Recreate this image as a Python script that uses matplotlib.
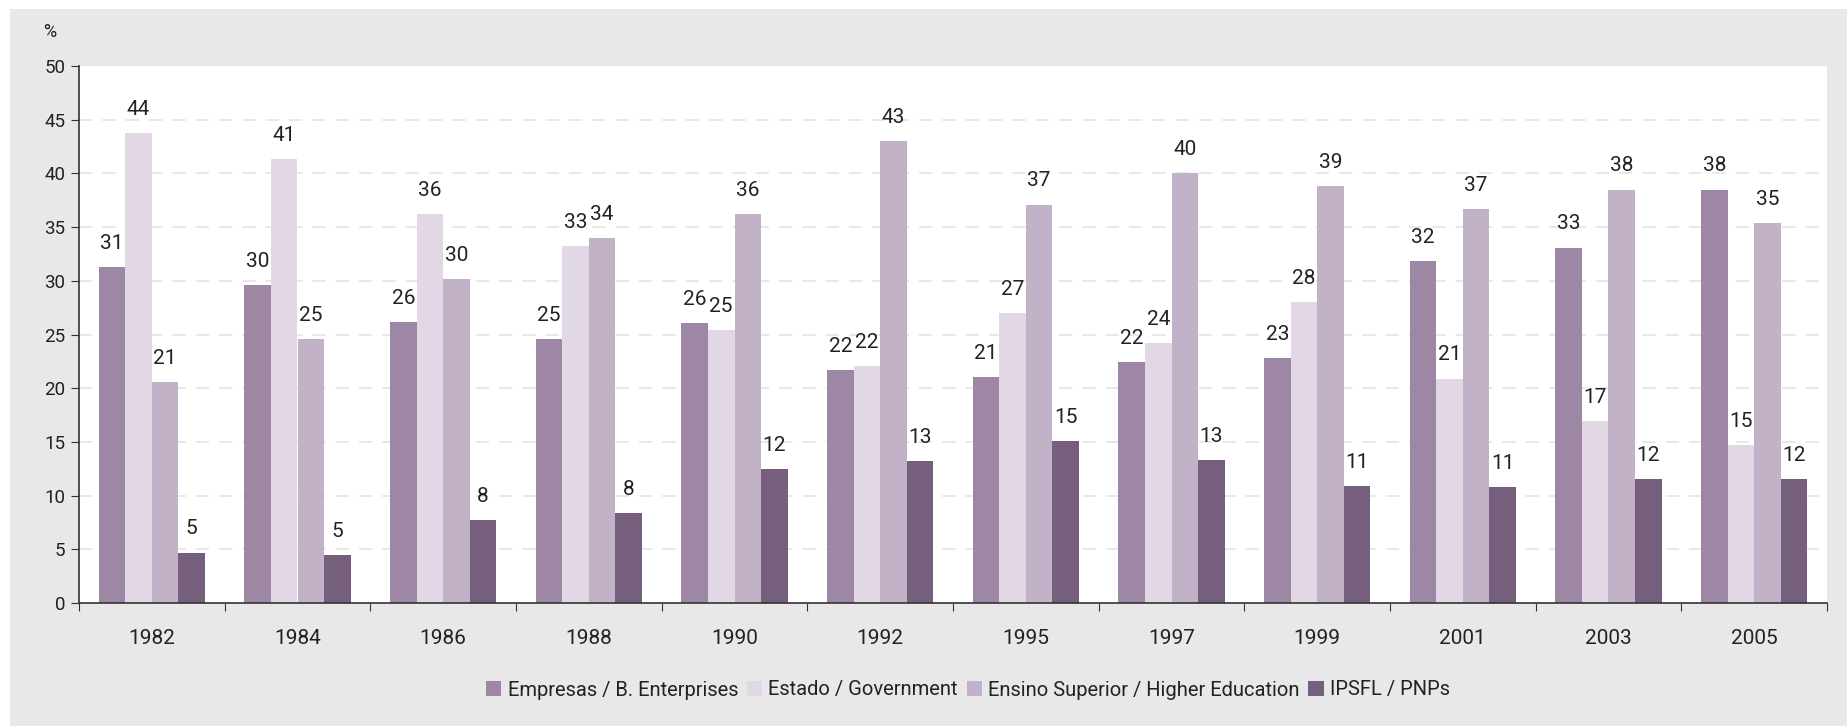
import numpy as np
import matplotlib
matplotlib.use('Agg')
import matplotlib.pyplot as plt
from matplotlib.patches import Rectangle
from matplotlib.ticker import FixedLocator, NullFormatter

years = ['1982', '1984', '1986', '1988', '1990', '1992', '1995', '1997', '1999', '2001', '2003', '2005']
series_names = ['Empresas / B. Enterprises', 'Estado / Government',
                'Ensino Superior / Higher Education', 'IPSFL / PNPs']
enterprises = [31.3, 29.6, 26.2, 24.6, 26.1, 21.7, 21.0, 22.4, 22.8, 31.8, 33.1, 38.5]
government = [43.8, 41.3, 36.2, 33.2, 25.4, 22.1, 27.0, 24.2, 28.0, 20.9, 16.9, 14.7]
higher_ed = [20.6, 24.6, 30.2, 34.0, 36.2, 43.0, 37.1, 40.0, 38.8, 36.7, 38.5, 35.4]
pnps = [4.7, 4.5, 7.7, 8.4, 12.5, 13.2, 15.1, 13.3, 10.9, 10.8, 11.5, 11.5]
labels = [
    [31, 30, 26, 25, 26, 22, 21, 22, 23, 32, 33, 38],
    [44, 41, 36, 33, 25, 22, 27, 24, 28, 21, 17, 15],
    [21, 25, 30, 34, 36, 43, 37, 40, 39, 37, 38, 35],
    [5, 5, 8, 8, 12, 13, 15, 13, 11, 11, 12, 12],
]
colors = ['#9e87a5', '#e1d7e5', '#c2b2c7', '#765f7c']
font = ['Roboto', 'DejaVu Sans']

W, H = 1847, 726
fig = plt.figure(figsize=(W / 100, H / 100), dpi=100)
fig.patch.set_facecolor('white')
fig.add_artist(Rectangle((10 / W, 0), 1 - 10 / W, 1 - 9 / H, transform=fig.transFigure,
                         facecolor='#e8e8e8', edgecolor='none', zorder=-10))

left, right, top, bottom = 79, 1827, 66, 603
ax = fig.add_axes([left / W, 1 - bottom / H, (right - left) / W, (bottom - top) / H])
ax.set_facecolor('white')

x = np.arange(len(years))
bw = 0.182
all_series = [enterprises, government, higher_ed, pnps]
for i, vals in enumerate(all_series):
    pos = x + (i - 1.5) * bw
    ax.bar(pos, vals, width=bw, color=colors[i], label=series_names[i], zorder=2)
    for px, v, lab in zip(pos, vals, labels[i]):
        ax.annotate(str(lab), (px, v), xytext=(0, 13), textcoords='offset points',
                    ha='center', va='baseline', fontsize=15, color='#222222',
                    family=font, zorder=3)

ax.set_xlim(-0.5, len(years) - 0.5)
ax.set_ylim(0, 50)
ax.set_yticks(np.arange(0, 51, 5))
for yv in np.arange(5, 50, 5):
    ax.axhline(yv, color='#e4e4e4', lw=1.2, dashes=(8, 6), zorder=1)

# boundary ticks between years, labels centred under each group
ax.xaxis.set_major_locator(FixedLocator(np.arange(-0.5, len(years), 1.0)))
ax.xaxis.set_major_formatter(NullFormatter())
ax.set_xticks(x, minor=True)
ax.set_xticklabels(years, minor=True, fontsize=15, family=font, color='#222222')
ax.tick_params(axis='x', which='minor', length=0, pad=19)
ax.tick_params(axis='x', which='major', length=6, direction='out', color='#333333')
ax.tick_params(axis='y', length=6, direction='out', color='#333333', labelsize=13.5,
               labelcolor='#222222', pad=4)
for lab in ax.get_yticklabels():
    lab.set_family(font)

for s in ['top', 'right']:
    ax.spines[s].set_visible(False)
for s in ['left', 'bottom']:
    ax.spines[s].set_color('#333333')
    ax.spines[s].set_linewidth(1.2)

fig.text(50 / W, 1 - 32 / H, '%', ha='center', va='center', fontsize=13, color='#222222',
         family=font)

leg = fig.legend(loc='center', bbox_to_anchor=(968 / W, 1 - 690 / H), ncol=4, frameon=False,
                 handlelength=0.75, handleheight=0.7, handletextpad=0.3, columnspacing=0.45,
                 prop={'family': font, 'size': 14.5})
for t in leg.get_texts():
    t.set_color('#222222')

fig.savefig('out.png', dpi=100)
